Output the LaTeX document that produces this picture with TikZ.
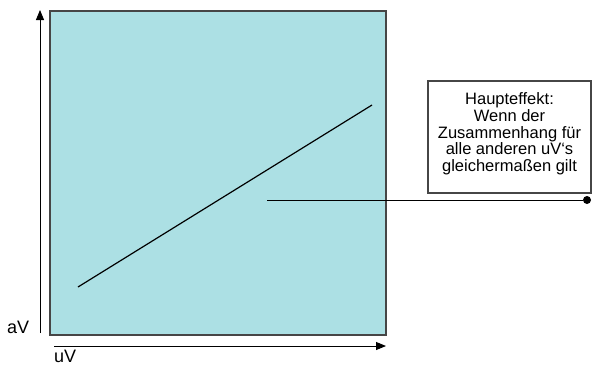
\documentclass[tikz,border=0pt]{standalone}
\usepackage{fontspec}
\setmainfont{Liberation Sans}
\usetikzlibrary{arrows.meta}
\definecolor{feldblau}{RGB}{172,224,228}
\definecolor{randgrau}{RGB}{70,70,70}
\tikzset{
  achse/.style={-{Triangle[length=10pt,width=8pt]}, line width=0.9pt},
  feld/.style={fill=feldblau, draw=randgrau, line width=1.5pt},
  infobox/.style={draw=randgrau, line width=1.3pt, minimum width=163pt, minimum height=112pt, inner sep=0pt},
  schrift/.style={font=\fontsize{16.5}{16.7}\selectfont, inner sep=0pt},
  achsschrift/.style={font=\fontsize{18}{20}\selectfont, inner sep=0pt}
}
\begin{document}
\begin{tikzpicture}[x=1pt, y=-1pt]
            \useasboundingbox (0,0) rectangle (592,367);

            % Feld
            \draw[feld] (50,11) rectangle (386,335);

            % Achsen
            \coordinate (yfuss) at (40,333);
            \coordinate (yspitze) at (40,10);
            \coordinate (xfuss) at (54,346);
            \coordinate (xspitze) at (386,346);
            \draw[achse] (yfuss) -- (yspitze);
            \draw[achse] (xfuss) -- (xspitze);
            \node[achsschrift, anchor=base west] (av) at (7,333) {aV};
            \node[achsschrift, anchor=base west] (uv) at (54,362) {uV};

            % Zusammenhang
            \coordinate (start) at (78,287);
            \coordinate (ende) at (372,105);
            \draw[line width=1.2pt] (start) -- (ende);

            % Hinweis
            \node[infobox] (box) at (509.5,137) {};
            \node[schrift, align=center] (hinweis) at (509.5,134) {Haupteffekt:\\Wenn der\\Zusammenhang für\\alle anderen uV‘s\\gleichermaßen gilt};
            \coordinate (zeiger) at (267,200);
            \node[circle, fill=black, inner sep=0pt, minimum size=8pt] (punkt) at (587,200) {};
            \draw[line width=1pt] (zeiger) -- (punkt);
\end{tikzpicture}
\end{document}
